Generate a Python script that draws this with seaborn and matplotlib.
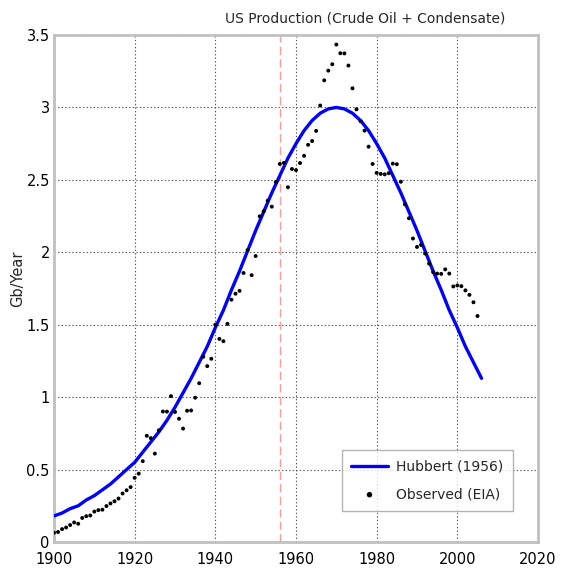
import numpy as np
import pandas as pd
import matplotlib
matplotlib.use("Agg")
import matplotlib.pyplot as plt
import seaborn as sns

# ---- data ----
hubbert_years = list(range(1900, 2007, 2))
hubbert_values = [0.18, 0.20, 0.23, 0.25, 0.29, 0.32, 0.36, 0.40, 0.45, 0.50,
                  0.55, 0.62, 0.69, 0.76, 0.84, 0.93, 1.03, 1.13, 1.24, 1.35,
                  1.48, 1.60, 1.74, 1.87, 2.01, 2.15, 2.28, 2.41, 2.53, 2.65,
                  2.75, 2.84, 2.91, 2.96, 2.99, 3.00, 2.99, 2.96, 2.91, 2.84,
                  2.75, 2.65, 2.53, 2.41, 2.28, 2.15, 2.01, 1.87, 1.74, 1.60,
                  1.48, 1.35, 1.24, 1.13]

obs_years = list(range(1900, 2006))
obs_values = [0.064, 0.069, 0.089, 0.100, 0.117, 0.135, 0.126, 0.166, 0.178, 0.183,
              0.210, 0.220, 0.223, 0.248, 0.266, 0.281, 0.300, 0.335, 0.357, 0.379,
              0.443, 0.472, 0.558, 0.733, 0.717, 0.610, 0.771, 0.901, 0.900, 1.007,
              0.898, 0.851, 0.783, 0.906, 0.908, 0.996, 1.096, 1.279, 1.214, 1.265,
              1.500, 1.402, 1.386, 1.506, 1.673, 1.714, 1.734, 1.857, 2.015, 1.842,
              1.974, 2.248, 2.283, 2.357, 2.315, 2.485, 2.610, 2.617, 2.449, 2.575,
              2.567, 2.616, 2.666, 2.742, 2.768, 2.838, 3.013, 3.187, 3.254, 3.298,
              3.434, 3.374, 3.373, 3.289, 3.132, 2.987, 2.905, 2.840, 2.729, 2.610,
              2.548, 2.541, 2.538, 2.546, 2.612, 2.608, 2.487, 2.331, 2.235, 2.095,
              2.037, 2.051, 1.992, 1.922, 1.863, 1.853, 1.851, 1.882, 1.853, 1.764,
              1.771, 1.766, 1.737, 1.706, 1.655, 1.560]

marker_year = 1956
x_ticks = [1900, 1920, 1940, 1960, 1980, 2000, 2020]
y_ticks = [0, 0.5, 1, 1.5, 2, 2.5, 3, 3.5]
y_tick_labels = ["0", "0.5", "1", "1.5", "2", "2.5", "3", "3.5"]
title = "US Production (Crude Oil + Condensate)"
ylabel = "Gb/Year"
label_hubbert = "Hubbert (1956)"
label_obs = "Observed (EIA)"

hub_df = pd.DataFrame({"year": hubbert_years, "value": hubbert_values})
obs_df = pd.DataFrame({"year": obs_years, "value": obs_values})

sns.set_style("white")
plt.rcParams["font.family"] = ["DejaVu Sans"]

fig = plt.figure(figsize=(5.64, 5.69), dpi=100)
ax = fig.add_axes([54 / 564, 1 - 542 / 569, (538 - 54) / 564, (542 - 35) / 569])

ax.axvline(marker_year, color="#ff9a9a", linestyle=(0, (6, 3)), linewidth=1.0, zorder=1)

sns.lineplot(data=hub_df, x="year", y="value", ax=ax, color="#0000ff",
             linewidth=2.4, label=label_hubbert, zorder=3)
sns.scatterplot(data=obs_df, x="year", y="value", ax=ax, color="black",
                s=8, marker="o", edgecolor="none", label=label_obs, zorder=4)

ax.set_xlim(1900, 2020)
ax.set_ylim(0, 3.5)
ax.set_xticks(x_ticks)
ax.set_xticklabels([str(v) for v in x_ticks])
ax.set_yticks(y_ticks)
ax.set_yticklabels(y_tick_labels)
ax.set_xlabel("")
ax.set_ylabel(ylabel, fontsize=10.5)
ax.yaxis.set_label_coords(-0.060, 0.52)

ax.grid(True, linestyle=(0, (1.2, 2.0)), color="#555555", linewidth=0.8, zorder=0)
ax.set_axisbelow(True)
for sp in ax.spines.values():
    sp.set_color("#c0c0c0")
    sp.set_linewidth(2.0)
    sp.set_visible(True)
ax.tick_params(axis="both", direction="in", length=3, color="#909090",
               labelsize=10.5, labelcolor="black")
ax.tick_params(axis="x", pad=7)
ax.tick_params(axis="y", pad=3)

ax.set_title(title, fontsize=10, x=(365 - 54) / 484, pad=9)

leg = ax.legend(loc="lower right", bbox_to_anchor=(0.948, 0.061), borderaxespad=0,
                frameon=True, fancybox=False, fontsize=10, handlelength=2.6,
                markerscale=1.4, borderpad=0.7, labelspacing=1.0, handletextpad=0.6)
leg.get_frame().set_edgecolor("#a0a0a0")
leg.get_frame().set_linewidth(1.0)

fig.savefig("out.png", dpi=100)
